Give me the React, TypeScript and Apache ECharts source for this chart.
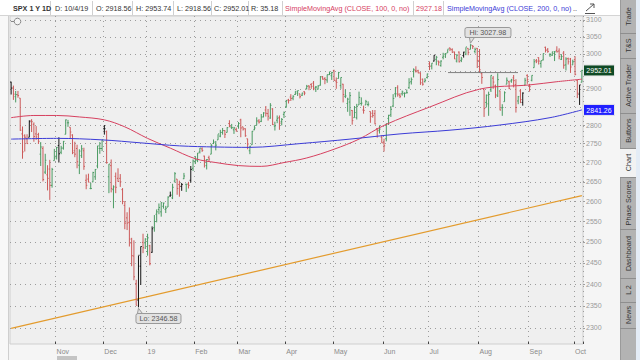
import { useEffect, useRef } from "react";
import * as echarts from "echarts";

type Row = [number, number, number, number, number]; // day, open, high, low, close

const oct2018: Row[] = [
  [4, 2919, 2920, 2884, 2902], [5, 2902, 2909, 2869, 2885], [8, 2878, 2894, 2862, 2884], [9, 2883, 2894, 2875, 2881],
  [10, 2874, 2874, 2784, 2786], [11, 2776, 2796, 2710, 2728], [12, 2771, 2775, 2729, 2767], [15, 2763, 2775, 2749, 2750],
  [16, 2767, 2813, 2767, 2809], [17, 2812, 2816, 2781, 2809], [18, 2802, 2807, 2755, 2769], [19, 2776, 2797, 2760, 2768],
  [22, 2774, 2779, 2749, 2756], [23, 2722, 2754, 2691, 2741], [24, 2737, 2743, 2651, 2656], [25, 2675, 2723, 2670, 2706],
  [26, 2668, 2693, 2628, 2659], [29, 2683, 2707, 2604, 2641], [30, 2641, 2686, 2635, 2682], [31, 2705, 2736, 2705, 2712],
];
const nov2018: Row[] = [
  [1, 2717, 2741, 2708, 2740], [2, 2745, 2767, 2700, 2723], [5, 2727, 2744, 2722, 2738], [6, 2738, 2757, 2734, 2756],
  [7, 2775, 2815, 2775, 2814], [8, 2806, 2814, 2795, 2806], [9, 2794, 2794, 2765, 2781], [12, 2773, 2775, 2722, 2726],
  [13, 2731, 2755, 2714, 2722], [14, 2737, 2747, 2685, 2702], [15, 2693, 2735, 2670, 2730], [16, 2718, 2746, 2712, 2736],
  [19, 2731, 2739, 2681, 2690], [20, 2654, 2669, 2631, 2641], [21, 2657, 2671, 2649, 2649], [23, 2633, 2647, 2631, 2633],
  [26, 2650, 2676, 2649, 2674], [27, 2663, 2683, 2655, 2682], [28, 2691, 2744, 2685, 2744], [29, 2737, 2754, 2723, 2737],
  [30, 2737, 2760, 2730, 2760],
];
const dec2018: Row[] = [
  [3, 2790, 2800, 2774, 2790], [4, 2782, 2785, 2697, 2700], [6, 2663, 2696, 2621, 2696], [7, 2692, 2708, 2623, 2633],
  [10, 2630, 2641, 2583, 2637], [11, 2664, 2674, 2621, 2636], [12, 2659, 2685, 2650, 2651], [13, 2659, 2670, 2637, 2650],
  [14, 2630, 2634, 2593, 2600], [17, 2590, 2601, 2531, 2546], [18, 2559, 2573, 2529, 2546], [19, 2548, 2585, 2489, 2507],
  [20, 2497, 2510, 2442, 2467], [21, 2466, 2504, 2409, 2417], [24, 2401, 2410, 2351, 2351], [26, 2363, 2467, 2346.58, 2468],
  [27, 2442, 2489, 2398, 2489], [28, 2499, 2520, 2473, 2486], [31, 2498, 2509, 2483, 2507],
];
const jan2019: Row[] = [
  [2, 2477, 2520, 2467, 2510], [3, 2491, 2493, 2444, 2448], [4, 2475, 2538, 2474, 2532], [7, 2535, 2566, 2525, 2550],
  [8, 2568, 2580, 2548, 2574], [9, 2580, 2595, 2568, 2585], [10, 2574, 2598, 2562, 2597], [11, 2588, 2597, 2582, 2596],
  [14, 2580, 2589, 2571, 2583], [15, 2586, 2613, 2586, 2611], [16, 2614, 2625, 2612, 2616], [17, 2609, 2645, 2606, 2636],
  [18, 2652, 2675, 2648, 2671], [22, 2657, 2657, 2617, 2633], [23, 2643, 2653, 2612, 2639], [24, 2638, 2647, 2627, 2643],
  [25, 2658, 2673, 2657, 2665], [28, 2644, 2644, 2624, 2644], [29, 2644, 2650, 2633, 2641], [30, 2654, 2691, 2648, 2682],
  [31, 2685, 2708, 2678, 2704],
];
const feb2019: Row[] = [
  [1, 2702, 2717, 2696, 2707], [4, 2706, 2725, 2701, 2725], [5, 2728, 2738, 2724, 2738], [6, 2736, 2740, 2728, 2732],
  [7, 2717, 2718, 2687, 2706], [8, 2692, 2709, 2682, 2708], [11, 2713, 2718, 2703, 2709], [12, 2722, 2749, 2722, 2745],
  [13, 2750, 2761, 2749, 2754], [14, 2743, 2757, 2732, 2746], [15, 2760, 2775, 2760, 2776], [19, 2770, 2787, 2767, 2780],
  [20, 2780, 2792, 2774, 2785], [21, 2785, 2786, 2765, 2775], [22, 2780, 2794, 2780, 2793], [25, 2804, 2813, 2794, 2796],
  [26, 2793, 2803, 2789, 2793], [27, 2787, 2795, 2776, 2792], [28, 2788, 2793, 2782, 2784],
];
const mar2019: Row[] = [
  [1, 2798, 2808, 2790, 2804], [4, 2814, 2817, 2767, 2792], [5, 2795, 2795, 2785, 2789], [6, 2790, 2791, 2768, 2771],
  [7, 2763, 2763, 2735, 2749], [8, 2731, 2744, 2722, 2743], [11, 2747, 2784, 2747, 2783], [12, 2787, 2799, 2786, 2792],
  [13, 2799, 2821, 2799, 2811], [14, 2811, 2816, 2804, 2808], [15, 2810, 2830, 2808, 2822], [18, 2822, 2835, 2821, 2833],
  [19, 2841, 2852, 2823, 2832], [20, 2831, 2844, 2812, 2824], [21, 2819, 2860, 2817, 2854], [22, 2844, 2846, 2800, 2801],
  [25, 2797, 2809, 2785, 2798], [26, 2813, 2826, 2805, 2818], [27, 2820, 2826, 2787, 2805], [28, 2809, 2819, 2799, 2815],
  [29, 2829, 2837, 2819, 2834],
];
const apr2019: Row[] = [
  [1, 2848, 2869, 2848, 2867], [2, 2869, 2872, 2859, 2867], [3, 2877, 2885, 2866, 2873], [4, 2874, 2882, 2868, 2879],
  [5, 2884, 2893, 2883, 2893], [8, 2888, 2895, 2880, 2895], [9, 2886, 2886, 2873, 2878], [10, 2882, 2889, 2880, 2888],
  [11, 2892, 2893, 2882, 2888], [12, 2901, 2911, 2898, 2907], [15, 2908, 2910, 2896, 2905], [16, 2912, 2916, 2900, 2907],
  [17, 2916, 2922, 2896, 2900], [18, 2904, 2908, 2891, 2905], [22, 2899, 2910, 2898, 2908], [23, 2910, 2936, 2909, 2934],
  [24, 2934, 2936, 2926, 2927], [25, 2929, 2933, 2913, 2926], [26, 2925, 2940, 2917, 2940], [29, 2940, 2949, 2939, 2943],
  [30, 2937, 2948, 2925, 2946],
];
const may2019: Row[] = [
  [1, 2952, 2954, 2923, 2924], [2, 2922, 2932, 2900, 2918], [3, 2929, 2948, 2929, 2946], [6, 2909, 2932, 2900, 2932],
  [7, 2913, 2914, 2862, 2884], [8, 2879, 2898, 2874, 2880], [9, 2859, 2875, 2836, 2871], [10, 2863, 2891, 2825, 2881],
  [13, 2840, 2841, 2801, 2812], [14, 2820, 2852, 2820, 2834], [15, 2820, 2858, 2815, 2851], [16, 2855, 2892, 2855, 2876],
  [17, 2859, 2876, 2853, 2860], [20, 2841, 2853, 2831, 2840], [21, 2855, 2869, 2855, 2864], [22, 2856, 2865, 2851, 2857],
  [23, 2837, 2837, 2806, 2823], [24, 2832, 2841, 2820, 2826], [28, 2831, 2841, 2802, 2803], [29, 2790, 2792, 2766, 2784],
  [30, 2786, 2799, 2777, 2789], [31, 2767, 2772, 2752, 2752],
];
const jun2019: Row[] = [
  [3, 2752, 2763, 2729, 2744], [4, 2763, 2804, 2756, 2804], [5, 2818, 2828, 2800, 2826], [6, 2828, 2852, 2822, 2843],
  [7, 2852, 2885, 2849, 2873], [10, 2886, 2905, 2876, 2886], [11, 2903, 2910, 2878, 2885], [12, 2882, 2888, 2874, 2879],
  [13, 2886, 2895, 2881, 2891], [14, 2887, 2890, 2876, 2887], [17, 2889, 2898, 2887, 2889], [18, 2903, 2930, 2900, 2917],
  [19, 2920, 2932, 2912, 2926], [20, 2949, 2958, 2932, 2954], [21, 2952, 2964, 2946, 2950], [24, 2951, 2954, 2944, 2945],
  [25, 2945, 2947, 2911, 2917], [26, 2927, 2929, 2909, 2913], [27, 2920, 2930, 2918, 2924], [28, 2932, 2943, 2929, 2942],
];
const jul2019: Row[] = [
  [1, 2971, 2978, 2953, 2964], [2, 2965, 2973, 2955, 2973], [3, 2979, 2996, 2978, 2996], [5, 2984, 2994, 2967, 2990],
  [8, 2979, 2980, 2966, 2976], [9, 2966, 2981, 2963, 2979], [10, 2990, 3003, 2984, 2993], [11, 2999, 3002, 2988, 3000],
  [12, 3003, 3013, 3003, 3014], [15, 3017, 3018, 3008, 3014], [16, 3012, 3016, 3003, 3004], [17, 3006, 3006, 2985, 2985],
  [18, 2979, 2999, 2975, 2996], [19, 3005, 3007, 2975, 2977], [22, 2981, 2991, 2976, 2985], [23, 2995, 3006, 2989, 3005],
  [24, 2999, 3019, 2996, 3020], [25, 3016, 3016, 2996, 3004], [26, 3013, 3027.98, 3013, 3026], [29, 3024, 3025, 3014, 3021],
  [30, 3007, 3018, 3001, 3013], [31, 3016, 3017, 2959, 2980],
];
const aug2019: Row[] = [
  [1, 2981, 3014, 2946, 2954], [2, 2943, 2946, 2914, 2932], [5, 2898, 2898, 2822, 2845], [6, 2862, 2884, 2848, 2882],
  [7, 2858, 2892, 2825, 2884], [8, 2897, 2938, 2891, 2938], [9, 2930, 2936, 2900, 2919], [12, 2908, 2912, 2874, 2883],
  [13, 2880, 2944, 2877, 2926], [14, 2894, 2895, 2840, 2841], [15, 2847, 2857, 2825, 2848], [16, 2864, 2893, 2864, 2889],
  [19, 2913, 2932, 2913, 2924], [20, 2920, 2923, 2899, 2901], [21, 2922, 2928, 2917, 2925], [22, 2931, 2939, 2904, 2923],
  [23, 2912, 2927, 2834, 2848], [26, 2866, 2880, 2857, 2878], [27, 2894, 2899, 2860, 2870], [28, 2862, 2890, 2853, 2888],
  [29, 2910, 2931, 2910, 2924], [30, 2938, 2941, 2914, 2926],
];
const sep2019: Row[] = [
  [3, 2909, 2914, 2892, 2906], [4, 2924, 2938, 2921, 2938], [5, 2960, 2985, 2960, 2977], [6, 2980, 2985, 2973, 2979],
  [9, 2989, 2990, 2969, 2979], [10, 2972, 2980, 2960, 2980], [11, 2982, 3001, 2981, 3001], [12, 3019, 3021, 3004, 3010],
  [13, 3012, 3017, 3003, 3007], [16, 2997, 3002, 2991, 2998], [17, 2996, 3006, 2994, 3006], [18, 3001, 3008, 2979, 3006],
  [19, 3010, 3022, 3004, 3006], [20, 3008, 3016, 2984, 2992], [23, 2984, 2999, 2982, 2992], [24, 3002, 3008, 2957, 2967],
  [25, 2968, 2990, 2952, 2985], [26, 2986, 2989, 2969, 2977], [27, 2985, 2988, 2945, 2962], [30, 2968, 2983, 2968, 2977],
];
const oct2019: Row[] = [
  [1, 2983, 2993, 2938, 2941], [2, 2924, 2925, 2874, 2888], [3, 2885, 2911, 2855, 2911], [4, 2918.56, 2953.74, 2918.56, 2952.01],
];

const monthBlocks = [
  { year: 2018, month: 10, rows: oct2018 }, { year: 2018, month: 11, rows: nov2018 }, { year: 2018, month: 12, rows: dec2018 },
  { year: 2019, month: 1, rows: jan2019 }, { year: 2019, month: 2, rows: feb2019 }, { year: 2019, month: 3, rows: mar2019 },
  { year: 2019, month: 4, rows: apr2019 }, { year: 2019, month: 5, rows: may2019 }, { year: 2019, month: 6, rows: jun2019 },
  { year: 2019, month: 7, rows: jul2019 }, { year: 2019, month: 8, rows: aug2019 }, { year: 2019, month: 9, rows: sep2019 },
  { year: 2019, month: 10, rows: oct2019 },
];

const monthTickLabels: Record<number, string> = {
  1: "19", 2: "Feb", 3: "Mar", 4: "Apr", 5: "May", 6: "Jun", 7: "Jul", 8: "Aug", 9: "Sep", 10: "Oct", 11: "Nov", 12: "Dec",
};

const priceTicks = [2300, 2350, 2400, 2450, 2500, 2550, 2600, 2650, 2700, 2750, 2800, 2850, 2900, 2950, 3000, 3050, 3100];
// tick labels hidden behind the price boxes in the reference
const priceLabels = [2300, 2350, 2400, 2450, 2500, 2550, 2600, 2650, 2700, 2750, 2800, 2900, 3000, 3050, 3100];

// [bar index, value]
const sma100Points: [number, number][] = [
  [0, 2820], [10, 2826], [20, 2826], [30, 2822], [41, 2814], [50, 2795], [60, 2764], [70, 2738], [81, 2710], [90, 2700],
  [100, 2692], [110, 2690], [120, 2700], [130, 2712], [142, 2735], [153, 2762], [164, 2799], [184, 2849], [206, 2899],
  [228, 2911], [240, 2920], [251, 2927.18],
];
const sma200Points: [number, number][] = [
  [0, 2762], [20, 2764], [40, 2760], [57, 2752], [74, 2744], [90, 2741], [105, 2740], [127, 2750], [149, 2762],
  [171, 2776], [193, 2786], [215, 2800], [237, 2820], [251, 2841.26],
];
const trendPoints: [number, number][] = [[0, 2299], [251, 2615]];

const darkBarDates = ["10/4/18", "10/16/18", "11/2/18", "12/3/18", "12/26/18", "12/27/18", "1/4/19", "1/16/19", "1/24/19", "1/30/19", "7/3/19", "7/23/19", "8/28/19", "10/3/19"];

const sideTabs = [
  { label: "Trade", y0: 0, y1: 33 }, { label: "T&S", y0: 33, y1: 58 }, { label: "Active Trader", y0: 58, y1: 113 },
  { label: "Buttons", y0: 113, y1: 148 }, { label: "Chart", y0: 148, y1: 177, active: true },
  { label: "Phase Scores", y0: 177, y1: 229 }, { label: "Dashboard", y0: 229, y1: 278 }, { label: "L 2", y0: 278, y1: 302 },
  { label: "News", y0: 302, y1: 328 },
];

const FONT = '"Liberation Sans", Arial, sans-serif';
const UP = "#4a9a62";
const DOWN = "#cc5a5a";
const DARK = "#151515";
const RED = "#d6405f";
const BLUE = "#3b3bd6";

export default function App() {
  const ref = useRef<HTMLDivElement>(null);
  useEffect(() => {
    const dates: string[] = [];
    const bars: number[][] = [];
    const monthStart = new Map<number, string>();
    monthBlocks.forEach((blk, bi) => {
      blk.rows.forEach((r, ri) => {
        const idx = dates.length;
        if (ri === 0 && bi > 0) monthStart.set(idx, monthTickLabels[blk.month]);
        const d = `${blk.month}/${r[0]}/${blk.year % 100}`;
        dates.push(d);
        bars.push([idx, Math.log(r[1]), Math.log(r[2]), Math.log(r[3]), Math.log(r[4]), darkBarDates.includes(d) ? 1 : 0]);
      });
    });
    const isMonthStart = (i: number) => monthStart.has(i);
    const last = oct2019[oct2019.length - 1];
    const lastDate = dates[dates.length - 1];
    let hiIdx = 0, loIdx = 0, hiVal = -Infinity, loVal = Infinity;
    let k = 0;
    monthBlocks.forEach((b) => b.rows.forEach((r) => {
      if (r[2] > hiVal) { hiVal = r[2]; hiIdx = k; }
      if (r[3] < loVal) { loVal = r[3]; loIdx = k; }
      k++;
    }));
    const sma100Last = sma100Points[sma100Points.length - 1][1];
    const sma200Last = sma200Points[sma200Points.length - 1][1];

    const chart = echarts.init(ref.current!, null, { renderer: "svg" });
    const tickVals = priceTicks.map((p) => Math.log(p));
    const labelVals = priceLabels.map((p) => Math.log(p));
    const gridStyle = { type: [1, 4] as number[], color: "#9c9c9c", width: 1 };

    chart.setOption({
      animation: false,
      backgroundColor: "#f5f5f5",
      textStyle: { fontFamily: FONT },
      grid: { left: 10, right: 57, top: 16, bottom: 16, show: true, backgroundColor: "#efefef", borderColor: "#cfcfcf", borderWidth: 1 },
      xAxis: {
        type: "category",
        data: dates,
        boundaryGap: true,
        axisLine: { show: false },
        axisTick: { show: true, inside: true, length: 2, interval: isMonthStart, lineStyle: { color: "#444" } },
        axisLabel: {
          interval: isMonthStart,
          formatter: (_v: string, i: number) => monthStart.get(i) ?? "",
          align: "left", color: "#8a8a8a", fontSize: 7, margin: 4, fontFamily: FONT,
        },
        splitLine: { show: true, interval: isMonthStart, lineStyle: gridStyle },
      },
      yAxis: {
        type: "value",
        position: "right",
        min: Math.log(2264.6),
        max: Math.log(3112),
        axisLine: { show: false },
        axisTick: { show: true, length: 2, customValues: tickVals, lineStyle: { color: "#a0a0a0" } },
        axisLabel: {
          customValues: labelVals,
          formatter: (v: number) => String(Math.round(Math.exp(v))),
          color: "#9a9a9a", fontSize: 7, margin: 3, fontFamily: FONT,
        },
        splitLine: { show: true, lineStyle: gridStyle },
      },
      series: [
        {
          type: "line",
          data: trendPoints.map(([i, v]) => [i, Math.log(v)]),
          symbol: "none",
          lineStyle: { color: "#e39b2d", width: 1.2 },
          z: 2,
        },
        {
          type: "custom",
          data: bars,
          encode: { x: 0, y: [1, 2, 3, 4] },
          z: 3,
          renderItem: (_params: any, api: any) => {
            const i = api.value(0);
            const o = api.value(1), h = api.value(2), l = api.value(3), c = api.value(4);
            const dark = api.value(5) === 1;
            const po = api.coord([i, o]);
            const ph = api.coord([i, h]);
            const pl = api.coord([i, l]);
            const pc = api.coord([i, c]);
            const color = dark ? DARK : c >= o ? UP : DOWN;
            const style = { stroke: color, lineWidth: 1 };
            const tw = 1.1;
            return {
              type: "group",
              children: [
                { type: "line", shape: { x1: ph[0], y1: ph[1], x2: pl[0], y2: pl[1] }, style },
                { type: "line", shape: { x1: po[0] - tw, y1: po[1], x2: po[0], y2: po[1] }, style },
                { type: "line", shape: { x1: pc[0], y1: pc[1], x2: pc[0] + tw, y2: pc[1] }, style },
              ],
            };
          },
        },
        {
          type: "line",
          data: sma100Points.map(([i, v]) => [i, Math.log(v)]),
          symbol: "none",
          smooth: 0.35,
          lineStyle: { color: RED, width: 1 },
          z: 4,
        },
        {
          type: "line",
          data: sma200Points.map(([i, v]) => [i, Math.log(v)]),
          symbol: "none",
          smooth: 0.35,
          lineStyle: { color: BLUE, width: 1 },
          z: 4,
        },
      ],
    });

    const px = (i: number, p: number) => chart.convertToPixel({ gridIndex: 0 }, [i, Math.log(p)]) as number[];
    const hiPt = px(hiIdx, hiVal);
    const loPt = px(loIdx, loVal);
    const yClose = px(0, last[4])[1];
    const y200 = px(0, sma200Last)[1];
    const lineY = px(0, 2946)[1];

    const t = (text: string, x: number, y: number, fill = "#333", extra: any = {}) => ({
      type: "text", z: 60,
      style: { text, x, y, fill, font: `7.2px ${FONT}`, align: "left", verticalAlign: "middle", ...extra },
    });

    const headerItems = [
      { text: "SPX 1 Y 1D", x: 13, bold: true },
      { text: `D: ${lastDate}`, x: 55 },
      { text: `O: ${last[1].toFixed(2)}`, x: 96 },
      { text: `H: ${last[2].toFixed(2)}`, x: 136 },
      { text: `L: ${last[3].toFixed(2)}`, x: 177 },
      { text: `C: ${last[4].toFixed(2)}`, x: 214 },
      { text: `R: ${(last[2] - last[3]).toFixed(2)}`, x: 251 },
      { text: "SimpleMovingAvg (CLOSE, 100, 0, no)", x: 285, color: RED },
      { text: sma100Last.toFixed(2), x: 416, color: RED },
      { text: "SimpleMovingAvg (CLOSE, 200, 0, no)", x: 447, color: BLUE },
      { text: "..", x: 573 },
    ];
    const seps = [50, 92, 132, 173, 211, 248, 282, 413, 443];

    const elements: any[] = [
      { type: "rect", z: 50, shape: { x: 0, y: 0, width: 620, height: 15 }, style: { fill: "#ffffff" } },
      { type: "line", z: 51, shape: { x1: 0, y1: 15.5, x2: 620, y2: 15.5 }, style: { stroke: "#d4d4d4", lineWidth: 1 } },
      ...seps.map((x) => ({ type: "line", z: 51, shape: { x1: x + 0.5, y1: 1, x2: x + 0.5, y2: 15 }, style: { stroke: "#d0d0d0", lineWidth: 1 } })),
      ...headerItems.map((h) => t(h.text, h.x, 8, h.color ?? "#333", h.bold ? { font: `bold 7.2px ${FONT}` } : {})),
      { type: "polyline", z: 52, shape: { points: [[586, 11], [594, 4]] }, style: { stroke: "#555", lineWidth: 1, fill: null } },
      { type: "polyline", z: 52, shape: { points: [[590, 4], [594, 4], [594, 8]] }, style: { stroke: "#555", lineWidth: 1, fill: null } },
      { type: "line", z: 52, shape: { x1: 585, y1: 13.5, x2: 595, y2: 13.5 }, style: { stroke: "#555", lineWidth: 1 } },
      { type: "rect", z: 40, shape: { x: 0, y: 16, width: 8, height: 344 }, style: { fill: "#f8f8f8" } },
      { type: "line", z: 41, shape: { x1: 8.5, y1: 16, x2: 8.5, y2: 360 }, style: { stroke: "#cfcfcf", lineWidth: 1 } },
      { type: "line", z: 45, shape: { x1: 11, y1: 21.5, x2: 14, y2: 21.5 }, style: { stroke: "#888", lineWidth: 1 } },
      { type: "circle", z: 45, shape: { cx: 17.5, cy: 21.5, r: 3.3 }, style: { stroke: "#888", fill: "#f4f4f4", lineWidth: 1 } },
      { type: "line", z: 5, shape: { x1: 448, y1: lineY, x2: 518, y2: lineY }, style: { stroke: "#666", lineWidth: 1, opacity: 0.8 } },
      { type: "polygon", z: 55, shape: { points: [[hiPt[0] - 1, 37.5], [hiPt[0] + 4, 37.5], [hiPt[0], hiPt[1] - 1]] }, style: { fill: "#e2e2e2", stroke: "#999", lineWidth: 1 } },
      { type: "rect", z: 56, shape: { x: hiPt[0] - 5.5, y: 27.5, width: 46, height: 10, r: 2 }, style: { fill: "#e2e2e2", stroke: "#999", lineWidth: 1 } },
      t(`Hi: ${hiVal.toFixed(2)}`, hiPt[0] + 17.5, 32.6, "#555", { align: "center" }),
      { type: "polygon", z: 55, shape: { points: [[loPt[0] - 1, 313.5], [loPt[0] + 4, 313.5], [loPt[0], loPt[1] + 1]] }, style: { fill: "#e2e2e2", stroke: "#999", lineWidth: 1 } },
      { type: "rect", z: 56, shape: { x: loPt[0] - 2.5, y: 313.5, width: 45, height: 10, r: 2 }, style: { fill: "#e2e2e2", stroke: "#999", lineWidth: 1 } },
      t(`Lo: ${loVal.toFixed(2)}`, loPt[0] + 20, 318.6, "#555", { align: "center" }),
      { type: "rect", z: 58, shape: { x: 583.5, y: yClose - 5.5, width: 31, height: 11 }, style: { fill: "#0f4a25", stroke: "#e8e8e8", lineWidth: 1 } },
      t(last[4].toFixed(2), 599, yClose + 0.3, "#ffffff", { align: "center", font: `7px ${FONT}` }),
      { type: "rect", z: 58, shape: { x: 583.5, y: y200 - 5.5, width: 31, height: 11 }, style: { fill: "#2020ff", stroke: "#e8e8e8", lineWidth: 1 } },
      t(sma200Last.toFixed(2), 599, y200 + 0.3, "#ffffff", { align: "center", font: `7px ${FONT}` }),
      { type: "rect", z: 45, shape: { x: 57, y: 356, width: 20, height: 4 }, style: { fill: "#c4c4c4" } },
      { type: "rect", z: 50, shape: { x: 620, y: 0, width: 16, height: 360 }, style: { fill: "#b3b3b3" } },
      { type: "rect", z: 50, shape: { x: 636, y: 0, width: 4, height: 360 }, style: { fill: "#e4ecf6" } },
      { type: "line", z: 51, shape: { x1: 620.5, y1: 0, x2: 620.5, y2: 360 }, style: { stroke: "#9a9a9a", lineWidth: 1 } },
      ...sideTabs.flatMap((tab) => [
        ...(tab.active ? [{ type: "rect", z: 51, shape: { x: 620, y: tab.y0, width: 16, height: tab.y1 - tab.y0 }, style: { fill: "#f2f2f2" } }] : []),
        { type: "line", z: 52, shape: { x1: 620, y1: tab.y1 + 0.5, x2: 636, y2: tab.y1 + 0.5 }, style: { stroke: "#8e8e8e", lineWidth: 1 } },
        {
          type: "text", z: 53, x: 628.5, y: (tab.y0 + tab.y1) / 2, rotation: Math.PI / 2,
          style: { text: tab.label, x: 0, y: 0, fill: "#333", font: `7.2px ${FONT}`, align: "center", verticalAlign: "middle" },
        },
      ]),
    ];

    chart.setOption({ graphic: { elements } });
    return () => chart.dispose();
  }, []);
  return <div ref={ref} style={{ position: "fixed", left: 0, top: 0, width: 640, height: 360 }} />;
}
